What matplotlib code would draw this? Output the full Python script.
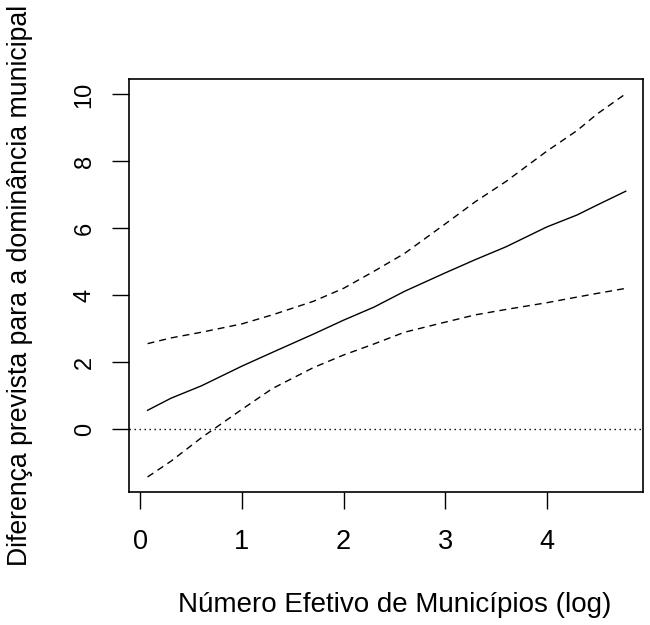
import matplotlib
matplotlib.use("Agg")
import matplotlib.pyplot as plt

# Data
x_vals = [0.07, 0.3, 0.6, 1.0, 1.3, 1.7, 2.0, 2.3, 2.6, 3.0, 3.3, 3.6, 4.0, 4.3, 4.5, 4.78]
fit_vals = [0.57, 0.93, 1.30, 1.89, 2.30, 2.84, 3.26, 3.65, 4.12, 4.67, 5.07, 5.45, 6.04, 6.40, 6.70, 7.11]
upper_vals = [2.56, 2.73, 2.90, 3.15, 3.42, 3.82, 4.21, 4.72, 5.25, 6.13, 6.80, 7.40, 8.30, 8.92, 9.42, 10.02]
lower_vals = [-1.42, -0.95, -0.25, 0.60, 1.22, 1.84, 2.22, 2.55, 2.90, 3.20, 3.42, 3.58, 3.78, 3.95, 4.06, 4.21]
x_ticks = [0, 1, 2, 3, 4]
y_ticks = [0, 2, 4, 6, 8, 10]
x_label = "Número Efetivo de Municípios (log)"
y_label = "Diferença prevista para a dominância municipal"

plt.rcParams['font.family'] = ['Liberation Sans', 'DejaVu Sans']

fig = plt.figure(figsize=(6.5, 6.25), dpi=100)
ax = fig.add_axes([129/650, 1 - 491.7/625, (643-129)/650, (491.7-79)/625])

dash = (0, (5, 3.6))
ax.plot(x_vals, fit_vals, color='black', lw=1.0, linestyle='-')
ax.plot(x_vals, upper_vals, color='black', lw=1.0, linestyle=dash)
ax.plot(x_vals, lower_vals, color='black', lw=1.0, linestyle=dash)
ax.axhline(0, color='black', lw=1.0, linestyle=(0, (1, 2.6)))

ax.set_xlim(-0.113, 4.95)
ax.set_ylim(-1.86, 10.46)
ax.set_xticks(x_ticks)
ax.set_yticks(y_ticks)
ax.set_xticklabels([str(t) for t in x_ticks], fontsize=19.5)
ax.set_yticklabels([str(t) for t in y_ticks], fontsize=17, rotation=90, va='center')
ax.tick_params(axis='x', length=12, width=1.0, pad=15)
ax.tick_params(axis='y', length=12, width=1.0, pad=12)
for s in ax.spines.values():
    s.set_linewidth(1.2)

ax.set_xlabel(x_label, fontsize=20)
ax.xaxis.set_label_coords((395 - 129) / (643 - 129), (605 - 491.7) / -(491.7 - 79), transform=ax.transAxes)
ax.xaxis.label.set_va('center')
ax.set_ylabel(y_label, fontsize=19.2)
ax.yaxis.set_label_coords((20 - 129) / (643 - 129), (491.7 - 285) / (491.7 - 79), transform=ax.transAxes)
ax.yaxis.label.set_va('center')

fig.savefig("out.png", dpi=100)
